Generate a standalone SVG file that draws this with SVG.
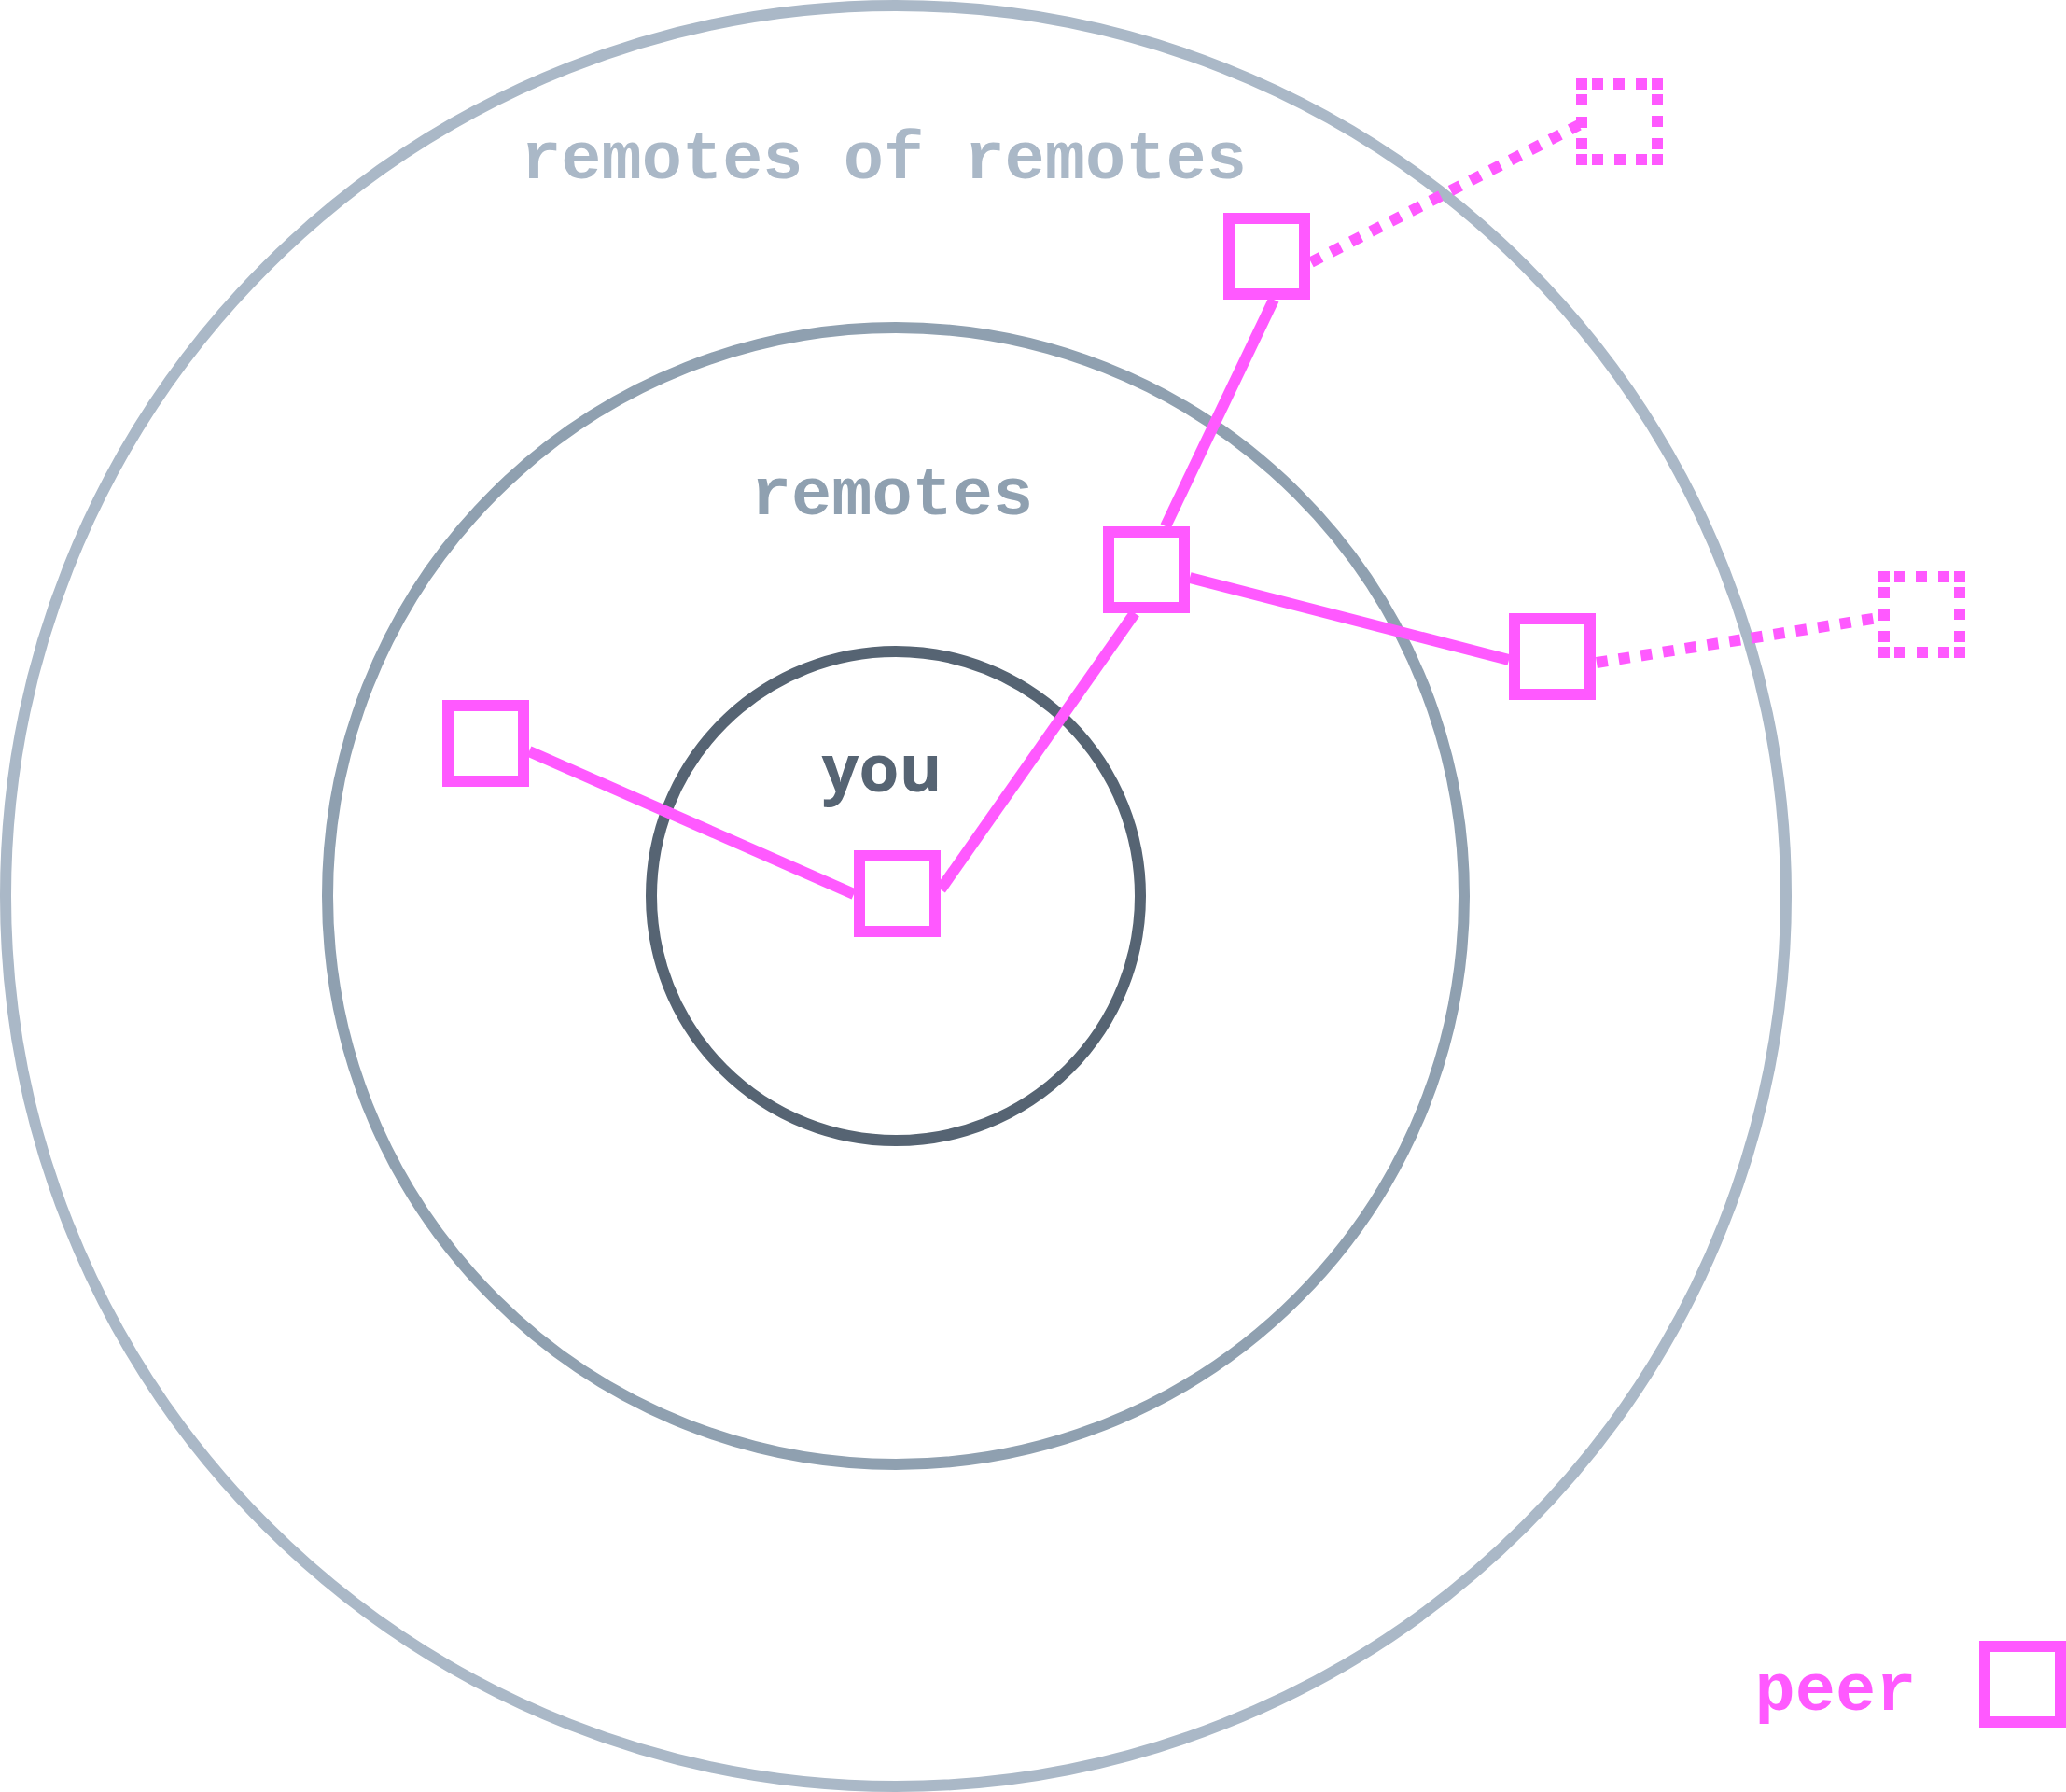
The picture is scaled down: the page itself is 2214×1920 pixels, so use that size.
<svg xmlns="http://www.w3.org/2000/svg" width="2214" height="1920" viewBox="0 0 2214 1920">
  <style>
    .ring { fill: none; stroke-width: 12; }
    .label { font-family: "Liberation Mono", "DejaVu Sans Mono", monospace; font-weight: 700; font-size: 72px; text-anchor: middle; }
    .you { font-family: "Open Sans", "Noto Sans", "Liberation Sans", sans-serif; font-weight: 700; font-size: 70px; text-anchor: middle; fill: #566473; }
    .peer { fill: #ffffff; stroke: #ff59ff; stroke-width: 12; }
    .ghost { fill: none; stroke: #ff59ff; stroke-width: 12; stroke-dasharray: 12 5 12 11 12 12 12 5; stroke-dashoffset: 6; }
    .link { stroke: #ff59ff; stroke-width: 12; fill: none; }
    .dotted { stroke: #ff59ff; stroke-width: 12; fill: none; stroke-dasharray: 12 12; }
  </style>
  <rect width="2214" height="1920" fill="#ffffff"/>

  <g id="ring-remotes-of-remotes">
    <circle class="ring" cx="960" cy="960" r="954" stroke="#aab8c7"/>
    <text class="label" x="947" y="191" fill="#aab8c7">remotes of remotes</text>
  </g>
  <g id="ring-remotes">
    <circle class="ring" cx="960" cy="960" r="609" stroke="#8fa0b0"/>
    <text class="label" x="956" y="551" fill="#8fa0b0">remotes</text>
  </g>
  <g id="ring-you">
    <circle class="ring" cx="960" cy="960" r="262" stroke="#566473"/>
    <text class="you" x="945" y="848">you</text>
  </g>

  <g id="connectors">
    <line class="link" x1="567" y1="805" x2="915" y2="958"/>
    <line class="link" x1="1008" y1="953" x2="1216" y2="657"/>
    <line class="link" x1="1249" y1="564" x2="1365" y2="321"/>
    <line class="link" x1="1275" y1="619" x2="1617" y2="707"/>
    <line class="dotted" x1="1405" y1="281" x2="1692" y2="134"/>
    <line class="dotted" x1="1711" y1="710" x2="2013" y2="662"/>
  </g>

  <g id="peer-you"><rect class="peer" x="921" y="917" width="81" height="81"/></g>
  <g id="peer-left"><rect class="peer" x="480" y="756" width="81" height="81"/></g>
  <g id="peer-middle"><rect class="peer" x="1188" y="570" width="81" height="81"/></g>
  <g id="peer-top"><rect class="peer" x="1317" y="234" width="81" height="81"/></g>
  <g id="peer-right"><rect class="peer" x="1623" y="663" width="81" height="81"/></g>
  <g id="peer-ghost-top"><rect class="ghost" x="1695" y="90" width="81" height="81"/></g>
  <g id="peer-ghost-right"><rect class="ghost" x="2019" y="618" width="81" height="81"/></g>

  <g id="legend">
    <text class="label" x="1967" y="1832" fill="#ff59ff">peer</text>
    <rect class="peer" x="2127" y="1764" width="81" height="81"/>
  </g>
</svg>
